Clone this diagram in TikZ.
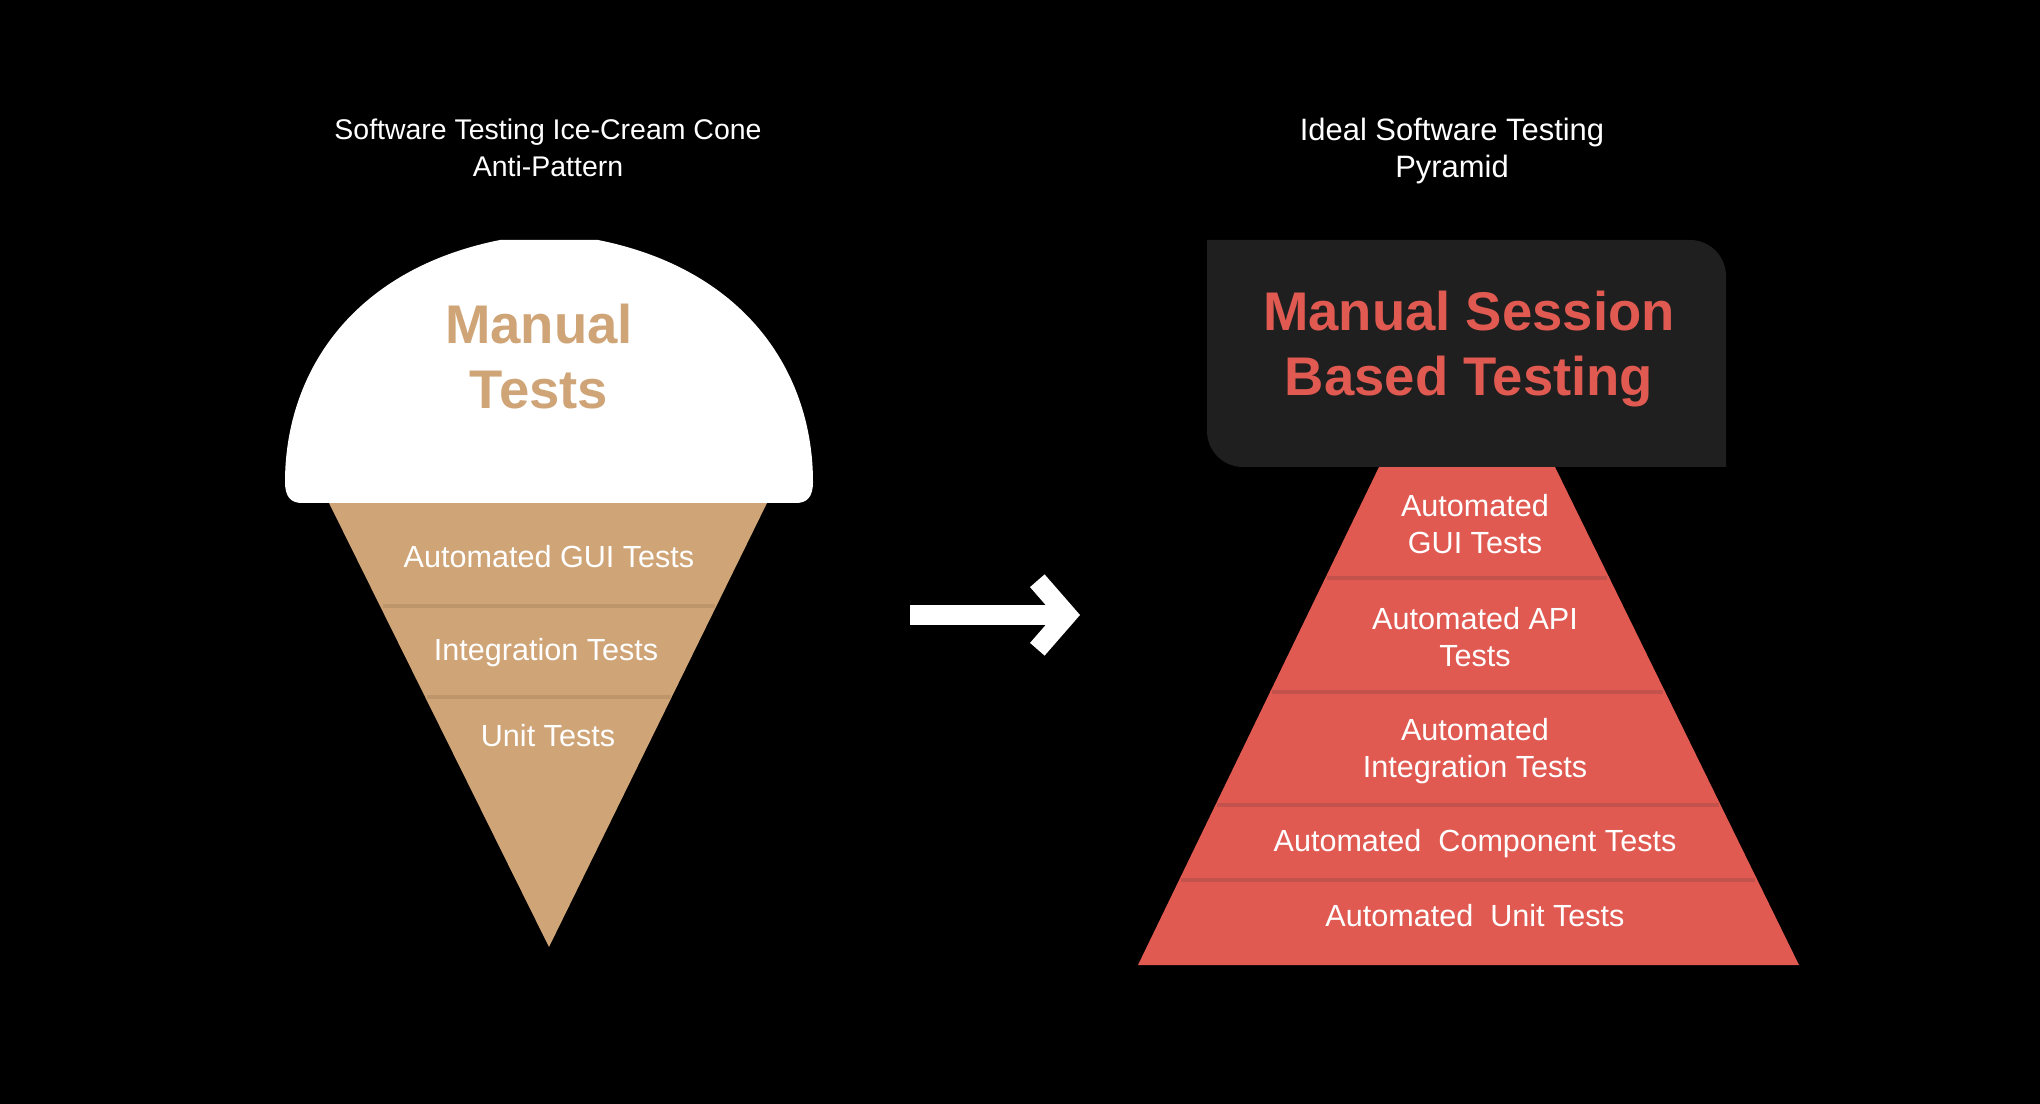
\documentclass[tikz,border=0pt]{standalone}
\usepackage{fontspec}
\setmainfont{Liberation Sans}
\usetikzlibrary{arrows.meta}
\definecolor{conetan}{HTML}{CFA477}
\definecolor{conetanline}{HTML}{BE966C}
\definecolor{pyrred}{HTML}{E05A52}
\definecolor{pyrredline}{HTML}{C4524C}
\definecolor{boxdark}{HTML}{1E1F1E}
\begin{document}
\begin{tikzpicture}[x=0.02cm,y=-0.02cm]
\fill[black] (0,0) rectangle (2040,1104);

% cone
\fill[conetan] (329,503) -- (767,503) -- (549,947) -- cycle;
\draw[conetanline,line width=2pt] (383,606) -- (715,606);
\draw[conetanline,line width=2pt] (427,697) -- (671,697);
\fill[white] (302,503) .. controls (291,503) and (285,497) .. (285,482)
  .. controls (285,375) and (350,270) .. (500,240) -- (598,240)
  .. controls (748,270) and (813,375) .. (813,482)
  .. controls (813,497) and (807,503) .. (796,503) -- cycle;

% pyramid
\fill[pyrred] (1379,467) -- (1555,467) -- (1799,965) -- (1138,965) -- cycle;
\draw[pyrredline,line width=2pt] (1327,578) -- (1607,578);
\draw[pyrredline,line width=2pt] (1272,692) -- (1663,692);
\draw[pyrredline,line width=2pt] (1217,805) -- (1719,805);
\draw[pyrredline,line width=2pt] (1181,880) -- (1755,880);
\fill[boxdark] (1207,240) -- (1690,240) arc (270:360:36) -- (1726,467) -- (1243,467) arc (90:180:36) -- cycle;

\begin{scope}[every node/.style={align=center,text=white,font=\fontsize{16.2}{21}\selectfont}]
\node (titlecone) at (548,148) {Software Testing Ice-Cream Cone\\Anti-Pattern};
\end{scope}
\node[align=center,text=white,font=\fontsize{17.6}{21}\selectfont] (titlepyr) at (1452,151) {Ideal Software Testing\\Pyramid};

\begin{scope}[every node/.style={align=center,font=\bfseries\fontsize{31}{37}\selectfont}]
\node[text=conetan] (manual) at (539,357) {Manual\\Tests};
\node[text=pyrred] (session) at (1469,349) {Manual Session\\Based Testing};
\end{scope}

\begin{scope}[every node/.style={align=center,text=white,font=\fontsize{17.4}{21.5}\selectfont}]
\node (conegui) at (549,557) {Automated GUI Tests};
\node (coneint) at (546,653) {Integration Tests};
\node (coneunit) at (548,736) {Unit Tests};
\node (pyrgui) at (1475,524) {Automated\\GUI Tests};
\node (pyrapi) at (1475,637) {Automated API\\Tests};
\node (pyrint) at (1475,751) {Automated\\Integration Tests};
\node (pyrcomp) at (1475,844) {Automated\ \ Component Tests};
\node (pyrunit) at (1475,916) {Automated\ \ Unit Tests};
\end{scope}

% arrow between the two
\coordinate (arrowstart) at (910,615);
\coordinate (arrowend) at (1080,615);
\draw[white,line width=11pt,-{Straight Barb[length=17pt,width=39pt,line width=11pt]}] (arrowstart) -- (arrowend);
\end{tikzpicture}
\end{document}
